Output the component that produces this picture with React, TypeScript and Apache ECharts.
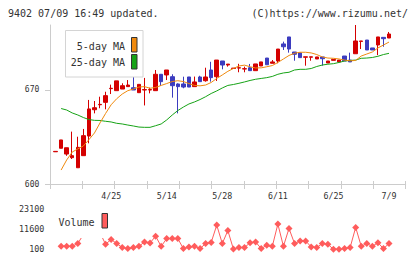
import React, { useEffect, useRef } from 'react';
import * as echarts from 'echarts';

// trading days shown (Japan, 2024)
const dates = [
  '4/11', '4/12', '4/15', '4/16', '4/17', '4/18', '4/19', '4/22', '4/23', '4/24',
  '4/25', '4/26', '4/30', '5/1', '5/2', '5/7', '5/8', '5/9', '5/10', '5/13',
  '5/14', '5/15', '5/16', '5/17', '5/20', '5/21', '5/22', '5/23', '5/24', '5/27',
  '5/28', '5/29', '5/30', '5/31', '6/3', '6/4', '6/5', '6/6', '6/7', '6/10',
  '6/11', '6/12', '6/13', '6/14', '6/17', '6/18', '6/19', '6/20', '6/21', '6/24',
  '6/25', '6/26', '6/27', '6/28', '7/1', '7/2', '7/3', '7/4', '7/5', '7/8',
  '7/9',
];

// [open, close, low, high]
const ohlc = [
  [624, 624.3, 624, 624.3], [626.6, 632.8, 626.6, 632.8], [622.3, 627, 621, 627], [619.6, 621.1, 618.6, 639],
  [612.1, 627.3, 612.1, 635.2], [621.1, 636, 621.1, 641], [635.7, 655.9, 630.3, 662.6], [655.3, 656.8, 652.6, 661.8],
  [659, 659.3, 656.4, 665], [660.8, 665.8, 655.6, 668.7], [671, 671.3, 667, 674], [669.5, 676.8, 669.5, 676.8],
  [670.7, 673.2, 670.7, 675], [672.5, 673.7, 672.5, 677.4], [671.7, 670, 670, 680], [668, 674.2, 668, 674.2],
  [670, 670.3, 658.5, 679], [670, 670.3, 667.5, 671.7], [669.5, 681.7, 669.5, 684.9], [681.7, 676.2, 673, 681.7],
  [681.2, 684.9, 677.4, 684.9], [679.9, 673.2, 664.3, 681.7], [674.5, 672.5, 652.6, 675], [674.5, 672.2, 671.3, 679.9],
  [679.7, 672.2, 672.2, 679.7], [672.5, 676, 672.5, 680], [679.7, 676.2, 676.2, 680.6], [676.9, 679.7, 676.2, 686.6],
  [684.9, 679.2, 676.2, 691], [679.9, 692.3, 676.7, 692.3], [691.6, 688.6, 685.4, 691.6], [688.6, 689.3, 687.4, 689.3],
  [686, 686.3, 686, 686.3], [686.3, 686.6, 683.2, 689.5], [685.6, 685.9, 683.2, 687.4], [686.6, 684.4, 684.4, 689.4],
  [684.4, 689.4, 684.4, 689.4], [687.9, 690.9, 687.9, 690.9], [693.8, 688.8, 688.8, 693.8], [689.9, 690.9, 689.9, 692.3],
  [691.6, 700.5, 689.9, 700.5], [704.3, 702.2, 699.8, 706], [709.5, 700.5, 697.8, 709.5], [698.3, 696.6, 691.8, 698.3],
  [697.6, 694.1, 694.1, 697.6], [694.4, 694.7, 688.1, 694.7], [694.4, 694.7, 691.8, 694.7], [693.1, 694.6, 693.1, 694.6],
  [694.6, 693.3, 688.1, 694.6], [690.1, 691.6, 690.1, 691.6], [692.1, 692.8, 692.1, 692.8], [690.9, 692.3, 690.9, 692.3],
  [695.3, 691.6, 691.6, 695.3], [692.3, 690.9, 690.9, 697.8], [697, 706.5, 697, 718.4], [706.2, 706.5, 700.5, 706.5],
  [707.2, 699.8, 699.8, 707.2], [701.3, 699.8, 699.8, 701.3], [703.5, 709.5, 696, 709.5], [709.2, 708.2, 702.2, 709.2],
  [708.7, 711.7, 708.7, 713.2],
];

const ma5 = [
  null, 610.4, 617.9, 623.8, 626.1, 628.3, 633, 638, 645.5, 652.5,
  659, 663.5, 667, 669.5, 670.7, 672.2, 672.5, 671.3, 671.9, 673.4,
  674.8, 676.3, 676.9, 676.3, 674.8, 673.4, 673.1, 673.7, 675.6, 678.6,
  681.2, 683.9, 686, 687.9, 688.5, 687.3, 686.4, 686.5, 687.3, 688.2,
  690.5, 693.1, 695.7, 697.4, 698.1, 698.1, 697.6, 696.4, 694.6, 693.8,
  693.6, 693.1, 692.3, 691.7, 692, 695.3, 696.8, 698.3, 701.3, 703.5,
  705.7,
];

const ma25 = [
  null, 656.2, 655.1, 652.9, 651.4, 649.5, 648, 647.4, 647.3, 646.7,
  646.2, 645.2, 644.7, 643.9, 643.2, 642.4, 642.2, 642.2, 643.4, 644.7,
  647.7, 651.4, 654.7, 657.3, 659.6, 661.1, 662.9, 665, 667.4, 669.3,
  671.5, 673.4, 674.1, 675, 676, 677.1, 678, 678.6, 679.2, 680.1,
  681.7, 682.7, 683.2, 684.9, 685.4, 685.4, 686, 687.5, 688.6, 689.2,
  689.6, 690.5, 691.6, 692, 692.3, 693.6, 693.8, 694.2, 695.1, 696.4,
  697.3,
];

const volume = [
  null, 1800, 1800, 1800, 3400, 8500, 15000, 19000, 9500, 3000,
  5700, 3400, 1100, 500, 1100, 1800, 4300, 3700, 7600, 1800,
  6200, 6200, 6200, 500, 1400, 1800, 500, 3400, 4000, 13900,
  3400, 10800, 200, 1100, 1100, 3900, 4300, 500, 2400, 1800,
  14500, 1800, 12000, 3400, 4800, 4900, 1400, 1100, 3400, 3000,
  100, 100, 500, 1100, 12600, 1800, 3400, 1800, 3900, 500,
  3400,
];

const priceTicks = [600, 670];
const volumeTicks = [100, 11600, 23100];
const labelDates = ['4/25', '5/14', '5/28', '6/11', '6/25', '7/9'];

const RED = '#d40000';
const BLUE = '#3c3cbf';
const ORANGE = '#f08a0e';
const GREEN = '#16a316';
const VOL = '#ff5c5c';
const AXIS = '#cccccc';
const TXT = '#333333';
const MONO = '"DejaVu Sans Mono", monospace';

export default function App() {
  const ref = useRef<HTMLDivElement>(null);

  useEffect(() => {
    document.body.style.margin = '0';
    const chart = echarts.init(ref.current as HTMLDivElement, null, { renderer: 'svg' });

    const cats = ['_p0', ...dates, '_p1', '_p2', '_p3'];
    const pad = (arr: (number | null)[]) => ['-', ...arr.map((v) => (v == null ? '-' : v))];
    const candleData = ['-', ...ohlc];

    const tickAxis = (inside: boolean, len: number) => ({
      type: 'value',
      gridIndex: 0,
      min: 0,
      max: 11,
      interval: 1,
      position: 'bottom',
      axisLine: { show: false },
      axisTick: { show: true, inside, length: len, lineStyle: { color: AXIS } },
      axisLabel: { show: false },
      splitLine: { show: false },
    });

    const option: any = {
      animation: false,
      backgroundColor: '#ffffff',
      grid: [
        { left: 50, right: 14.3, top: 25, height: 159 },
        { left: 50, right: 14.3, top: 209, height: 40.3 },
      ],
      xAxis: [
        {
          type: 'category',
          gridIndex: 0,
          data: cats,
          boundaryGap: false,
          axisLine: { onZero: false, lineStyle: { color: AXIS } },
          axisTick: { show: false },
          axisLabel: {
            interval: (_i: number, v: string) => labelDates.includes(v),
            color: TXT,
            fontFamily: MONO,
            fontSize: 8.3,
            margin: 8,
          },
          splitLine: { show: false },
        },
        tickAxis(false, 5),
        tickAxis(true, 3),
        {
          type: 'category',
          gridIndex: 1,
          data: cats,
          boundaryGap: false,
          show: false,
        },
      ],
      yAxis: [
        {
          type: 'value',
          gridIndex: 0,
          min: 600,
          max: 718.4,
          axisLine: { show: true, lineStyle: { color: AXIS } },
          axisTick: { show: true, length: 5, customValues: priceTicks, lineStyle: { color: AXIS } },
          axisLabel: {
            customValues: priceTicks,
            formatter: (v: number) => String(v),
            color: TXT,
            fontFamily: MONO,
            fontSize: 8,
            margin: 10.7,
          },
          splitLine: { show: false },
        },
        {
          type: 'value',
          gridIndex: 0,
          min: 600,
          max: 718.4,
          axisLine: { show: false },
          axisTick: { show: true, inside: true, length: 3, customValues: priceTicks, lineStyle: { color: AXIS } },
          axisLabel: { show: false },
          splitLine: { show: false },
        },
        {
          type: 'value',
          gridIndex: 1,
          min: 100,
          max: 23100,
          axisLine: { show: false },
          axisTick: { show: false },
          axisLabel: {
            customValues: volumeTicks,
            formatter: (v: number) => String(v),
            color: TXT,
            fontFamily: MONO,
            fontSize: 8.4,
            margin: 5.7,
          },
          splitLine: { show: false },
        },
      ],
      series: [
        {
          type: 'candlestick',
          xAxisIndex: 0,
          yAxisIndex: 0,
          data: candleData,
          barWidth: 4,
          itemStyle: {
            color: RED,
            color0: BLUE,
            borderColor: RED,
            borderColor0: BLUE,
            borderColorDoji: RED,
            borderWidth: 1,
          },
          z: 2,
        },
        {
          type: 'line',
          xAxisIndex: 0,
          yAxisIndex: 0,
          data: pad(ma25),
          symbol: 'none',
          lineStyle: { color: GREEN, width: 1 },
          z: 3,
        },
        {
          type: 'line',
          xAxisIndex: 0,
          yAxisIndex: 0,
          data: pad(ma5),
          symbol: 'none',
          lineStyle: { color: ORANGE, width: 1 },
          z: 4,
        },
        {
          type: 'line',
          xAxisIndex: 3,
          yAxisIndex: 2,
          data: pad(volume),
          symbol: 'diamond',
          symbolSize: 7,
          showAllSymbol: true,
          connectNulls: false,
          itemStyle: { color: VOL },
          lineStyle: { color: VOL, width: 1 },
          z: 3,
        },
      ],
      graphic: [
        {
          type: 'text',
          z: 100,
          style: { text: '9402 07/09 16:49 updated.', x: 8, y: 13, fill: TXT, fontFamily: MONO, fontSize: 10, verticalAlign: 'middle' },
        },
        {
          type: 'text',
          z: 100,
          style: { text: '(C)https://www.rizumu.net/', x: 408, y: 13, fill: TXT, fontFamily: MONO, fontSize: 10, align: 'right', verticalAlign: 'middle' },
        },
        {
          type: 'rect',
          z: 100,
          shape: { x: 65.5, y: 30.5, width: 77.5, height: 46.5 },
          style: { fill: '#ffffff', stroke: '#d4d4d4', lineWidth: 1 },
        },
        {
          type: 'text',
          z: 101,
          style: { text: '5-day MA', x: 125, y: 46, fill: TXT, fontFamily: MONO, fontSize: 10, align: 'right', verticalAlign: 'middle' },
        },
        {
          type: 'text',
          z: 101,
          style: { text: '25-day MA', x: 125, y: 62.5, fill: TXT, fontFamily: MONO, fontSize: 10, align: 'right', verticalAlign: 'middle' },
        },
        {
          type: 'rect',
          z: 101,
          shape: { x: 131.5, y: 37.5, width: 5.5, height: 14.5 },
          style: { fill: ORANGE, stroke: '#333333', lineWidth: 1 },
        },
        {
          type: 'rect',
          z: 101,
          shape: { x: 131.5, y: 54.5, width: 5.5, height: 14.5 },
          style: { fill: GREEN, stroke: '#333333', lineWidth: 1 },
        },
        {
          type: 'rect',
          z: 100,
          shape: { x: 56, y: 211, width: 52, height: 27 },
          style: { fill: '#ffffff' },
        },
        {
          type: 'text',
          z: 101,
          style: { text: 'Volume', x: 58.5, y: 222.3, fill: TXT, fontFamily: MONO, fontSize: 10, verticalAlign: 'middle' },
        },
        {
          type: 'rect',
          z: 101,
          shape: { x: 102, y: 213.5, width: 5.5, height: 14.5 },
          style: { fill: VOL, stroke: '#333333', lineWidth: 1 },
        },
      ],
    };

    chart.setOption(option);
    return () => chart.dispose();
  }, []);

  return <div ref={ref} style={{ width: 420, height: 259 }} />;
}
